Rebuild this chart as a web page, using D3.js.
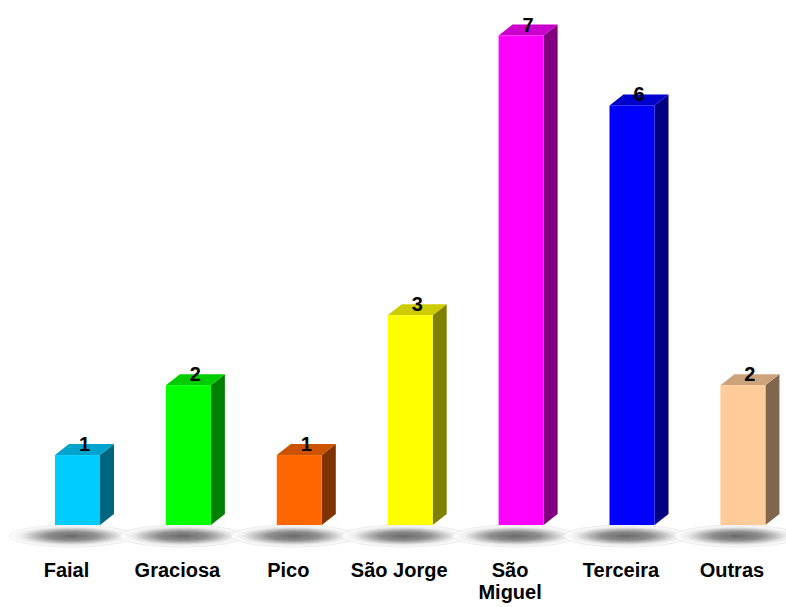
<!DOCTYPE html>
<html>
<head>
<meta charset="utf-8">
<script src="https://cdn.jsdelivr.net/npm/d3@7"></script>
<style>
  html, body { margin: 0; padding: 0; background: #fff; }
  svg { display: block; }
  text { font-family: "Liberation Sans", Arial, sans-serif; font-weight: bold; }
</style>
</head>
<body>
<svg id="chart" width="786" height="607"></svg>
<script>
// Islands and counts
const categories = ["Faial", "Graciosa", "Pico", "São Jorge", "São Miguel", "Terceira", "Outras"];
const labelLines = [["Faial"], ["Graciosa"], ["Pico"], ["São Jorge"], ["São", "Miguel"], ["Terceira"], ["Outras"]];
const values = [1, 2, 1, 3, 7, 6, 2];
const frontColors = ["#00CCFF", "#00FF00", "#FF6600", "#FFFF00", "#FF00FF", "#0000FF", "#FFCC99"];

const depthX = 14, depthY = 11;
const baseY = 525;

const svg = d3.select("#chart");

const x = d3.scaleBand()
  .domain(categories)
  .range([21.7, 798.7])
  .paddingInner(0.594)
  .paddingOuter(0.3);

const y = d3.scaleLinear().domain([0, 7]).range([baseY, 35.5]);

const data = categories.map((c, i) => ({ cat: c, value: values[i], color: frontColors[i], lines: labelLines[i] }));

// Floor shadow gradient
const defs = svg.append("defs");
const grad = defs.append("radialGradient")
  .attr("id", "shadowGrad")
  .attr("cx", "50%").attr("cy", "50%").attr("r", "50%");
grad.append("stop").attr("offset", "0%").attr("stop-color", "#6a6a6a");
grad.append("stop").attr("offset", "40%").attr("stop-color", "#8e8e8e");
grad.append("stop").attr("offset", "80%").attr("stop-color", "#ececec");
grad.append("stop").attr("offset", "100%").attr("stop-color", "#ffffff");

// Shadows beneath each bar
svg.append("g").selectAll("ellipse")
  .data(data)
  .join("ellipse")
  .attr("cx", d => x(d.cat) + x.bandwidth() / 2 - 6)
  .attr("cy", 536)
  .attr("rx", 62)
  .attr("ry", 11)
  .attr("fill", "url(#shadowGrad)")
  .attr("stroke", "#e6e6e6")
  .attr("stroke-width", 0.8);

// 3D bars
const bars = svg.append("g").selectAll("g")
  .data(data)
  .join("g");

const mix = (c, f) => { const r = d3.rgb(c); return d3.rgb(r.r * f, r.g * f, r.b * f).formatHex(); };

// side face
bars.append("path")
  .attr("fill", d => mix(d.color, 0.5))
  .attr("d", d => {
    const x1 = x(d.cat) + x.bandwidth(), yt = y(d.value), yb = y(0);
    return `M${x1},${yt}L${x1 + depthX},${yt - depthY}L${x1 + depthX},${yb - depthY}L${x1},${yb}Z`;
  });

// top face
bars.append("path")
  .attr("fill", d => mix(d.color, 0.8))
  .attr("d", d => {
    const x0 = x(d.cat), x1 = x0 + x.bandwidth(), yt = y(d.value);
    return `M${x0},${yt}L${x0 + depthX},${yt - depthY}L${x1 + depthX},${yt - depthY}L${x1},${yt}Z`;
  });

// front face
bars.append("rect")
  .attr("x", d => x(d.cat))
  .attr("y", d => y(d.value))
  .attr("width", x.bandwidth())
  .attr("height", d => y(0) - y(d.value))
  .attr("fill", d => d.color);

// value labels
bars.append("text")
  .attr("x", d => x(d.cat) + x.bandwidth() / 2 + depthX / 2)
  .attr("y", d => y(d.value) - 4)
  .attr("text-anchor", "middle")
  .attr("font-size", 20)
  .attr("fill", "#000")
  .text(d => d.value);

// category labels
const cats = svg.append("g").selectAll("text")
  .data(data)
  .join("text")
  .attr("x", d => x(d.cat) + x.bandwidth() / 2 - 11)
  .attr("y", 577)
  .attr("text-anchor", "middle")
  .attr("font-size", 20)
  .attr("fill", "#000");

cats.selectAll("tspan")
  .data(d => d.lines.map(l => ({ l, cx: x(d.cat) + x.bandwidth() / 2 - 11 })))
  .join("tspan")
  .attr("x", t => t.cx)
  .attr("dy", (t, i) => i === 0 ? 0 : 22)
  .text(t => t.l);
</script>
</body>
</html>
